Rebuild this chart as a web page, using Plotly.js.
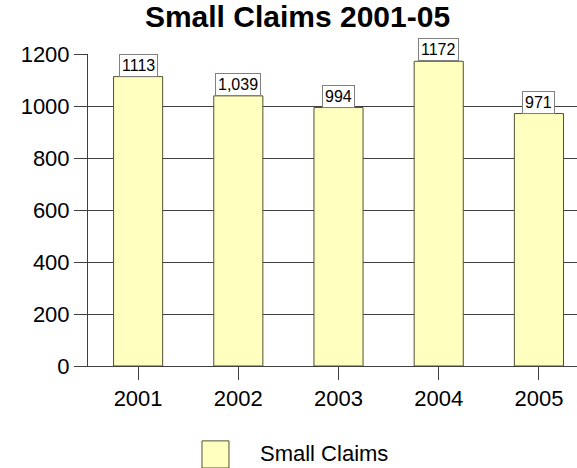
<!DOCTYPE html>
<html>
<head>
<meta charset="utf-8">
<script src="https://cdn.plot.ly/plotly-3.0.1.min.js"></script>
<style>html,body{margin:0;padding:0;background:#fff;}#chart{width:577px;height:468px;}</style>
</head>
<body>
<div id="chart"></div>
<script>
const categories = ["2001", "2002", "2003", "2004", "2005"];
const values = [1113, 1039, 994, 1172, 971];
const valueLabels = ["1113", "1,039", "994", "1172", "971"];
const seriesName = "Small Claims";
const yTicks = [0, 200, 400, 600, 800, 1000, 1200];

const FONT = "Arial, 'Liberation Sans', sans-serif";

const trace = {
  type: "bar",
  x: categories,
  y: values,
  name: seriesName,
  width: 0.49,
  marker: { color: "#FFFFC0", line: { color: "#505030", width: 1 } },
  hoverinfo: "x+y",
  showlegend: false
};

const annotations = categories.map((c, i) => ({
  x: i, y: values[i], xref: "x", yref: "y",
  text: valueLabels[i], showarrow: false,
  xanchor: "center", yanchor: "bottom",
  bgcolor: "#ffffff", bordercolor: "#808080", borderwidth: 1, borderpad: 2,
  font: { family: FONT, size: 16, color: "#000" }
}));
annotations.push({
  xref: "paper", yref: "paper", x: 0.3476, y: -0.282,
  xanchor: "left", yanchor: "middle", showarrow: false,
  text: seriesName, font: { family: FONT, size: 22, color: "#000" }
});

const layout = {
  width: 577, height: 468,
  margin: { l: 88, r: 0, t: 54, b: 102 },
  paper_bgcolor: "#fff", plot_bgcolor: "#fff",
  title: {
    text: "<b>Small Claims 2001-05</b>",
    font: { family: FONT, size: 30, color: "#000" },
    xref: "container", yref: "container",
    x: 0.5156, xanchor: "center", y: 0.965, yanchor: "middle"
  },
  xaxis: {
    type: "category", range: [-0.5, 4.38],
    showline: true, linecolor: "#404040", linewidth: 1,
    ticks: "outside", ticklen: 13, tickcolor: "#404040", tickwidth: 1,
    showgrid: false, zeroline: false,
    tickfont: { family: FONT, size: 22, color: "#000" },
    fixedrange: true
  },
  yaxis: {
    range: [0, 1200], tickvals: yTicks,
    showline: true, linecolor: "#404040", linewidth: 1,
    ticks: "outside", ticklen: 13, tickcolor: "#404040", tickwidth: 1,
    showgrid: true, gridcolor: "#404040", gridwidth: 1,
    zeroline: false,
    tickfont: { family: FONT, size: 22, color: "#000" },
    fixedrange: true
  },
  shapes: [{
    type: "rect", xref: "paper", yref: "paper",
    x0: 0.2331, x1: 0.2883, y0: -0.240, y1: -0.327,
    fillcolor: "#FFFFC0", line: { color: "#505030", width: 1 }
  }],
  annotations: annotations,
  showlegend: false
};

Plotly.newPlot("chart", [trace], layout, { displayModeBar: false, staticPlot: true });
</script>
</body>
</html>
